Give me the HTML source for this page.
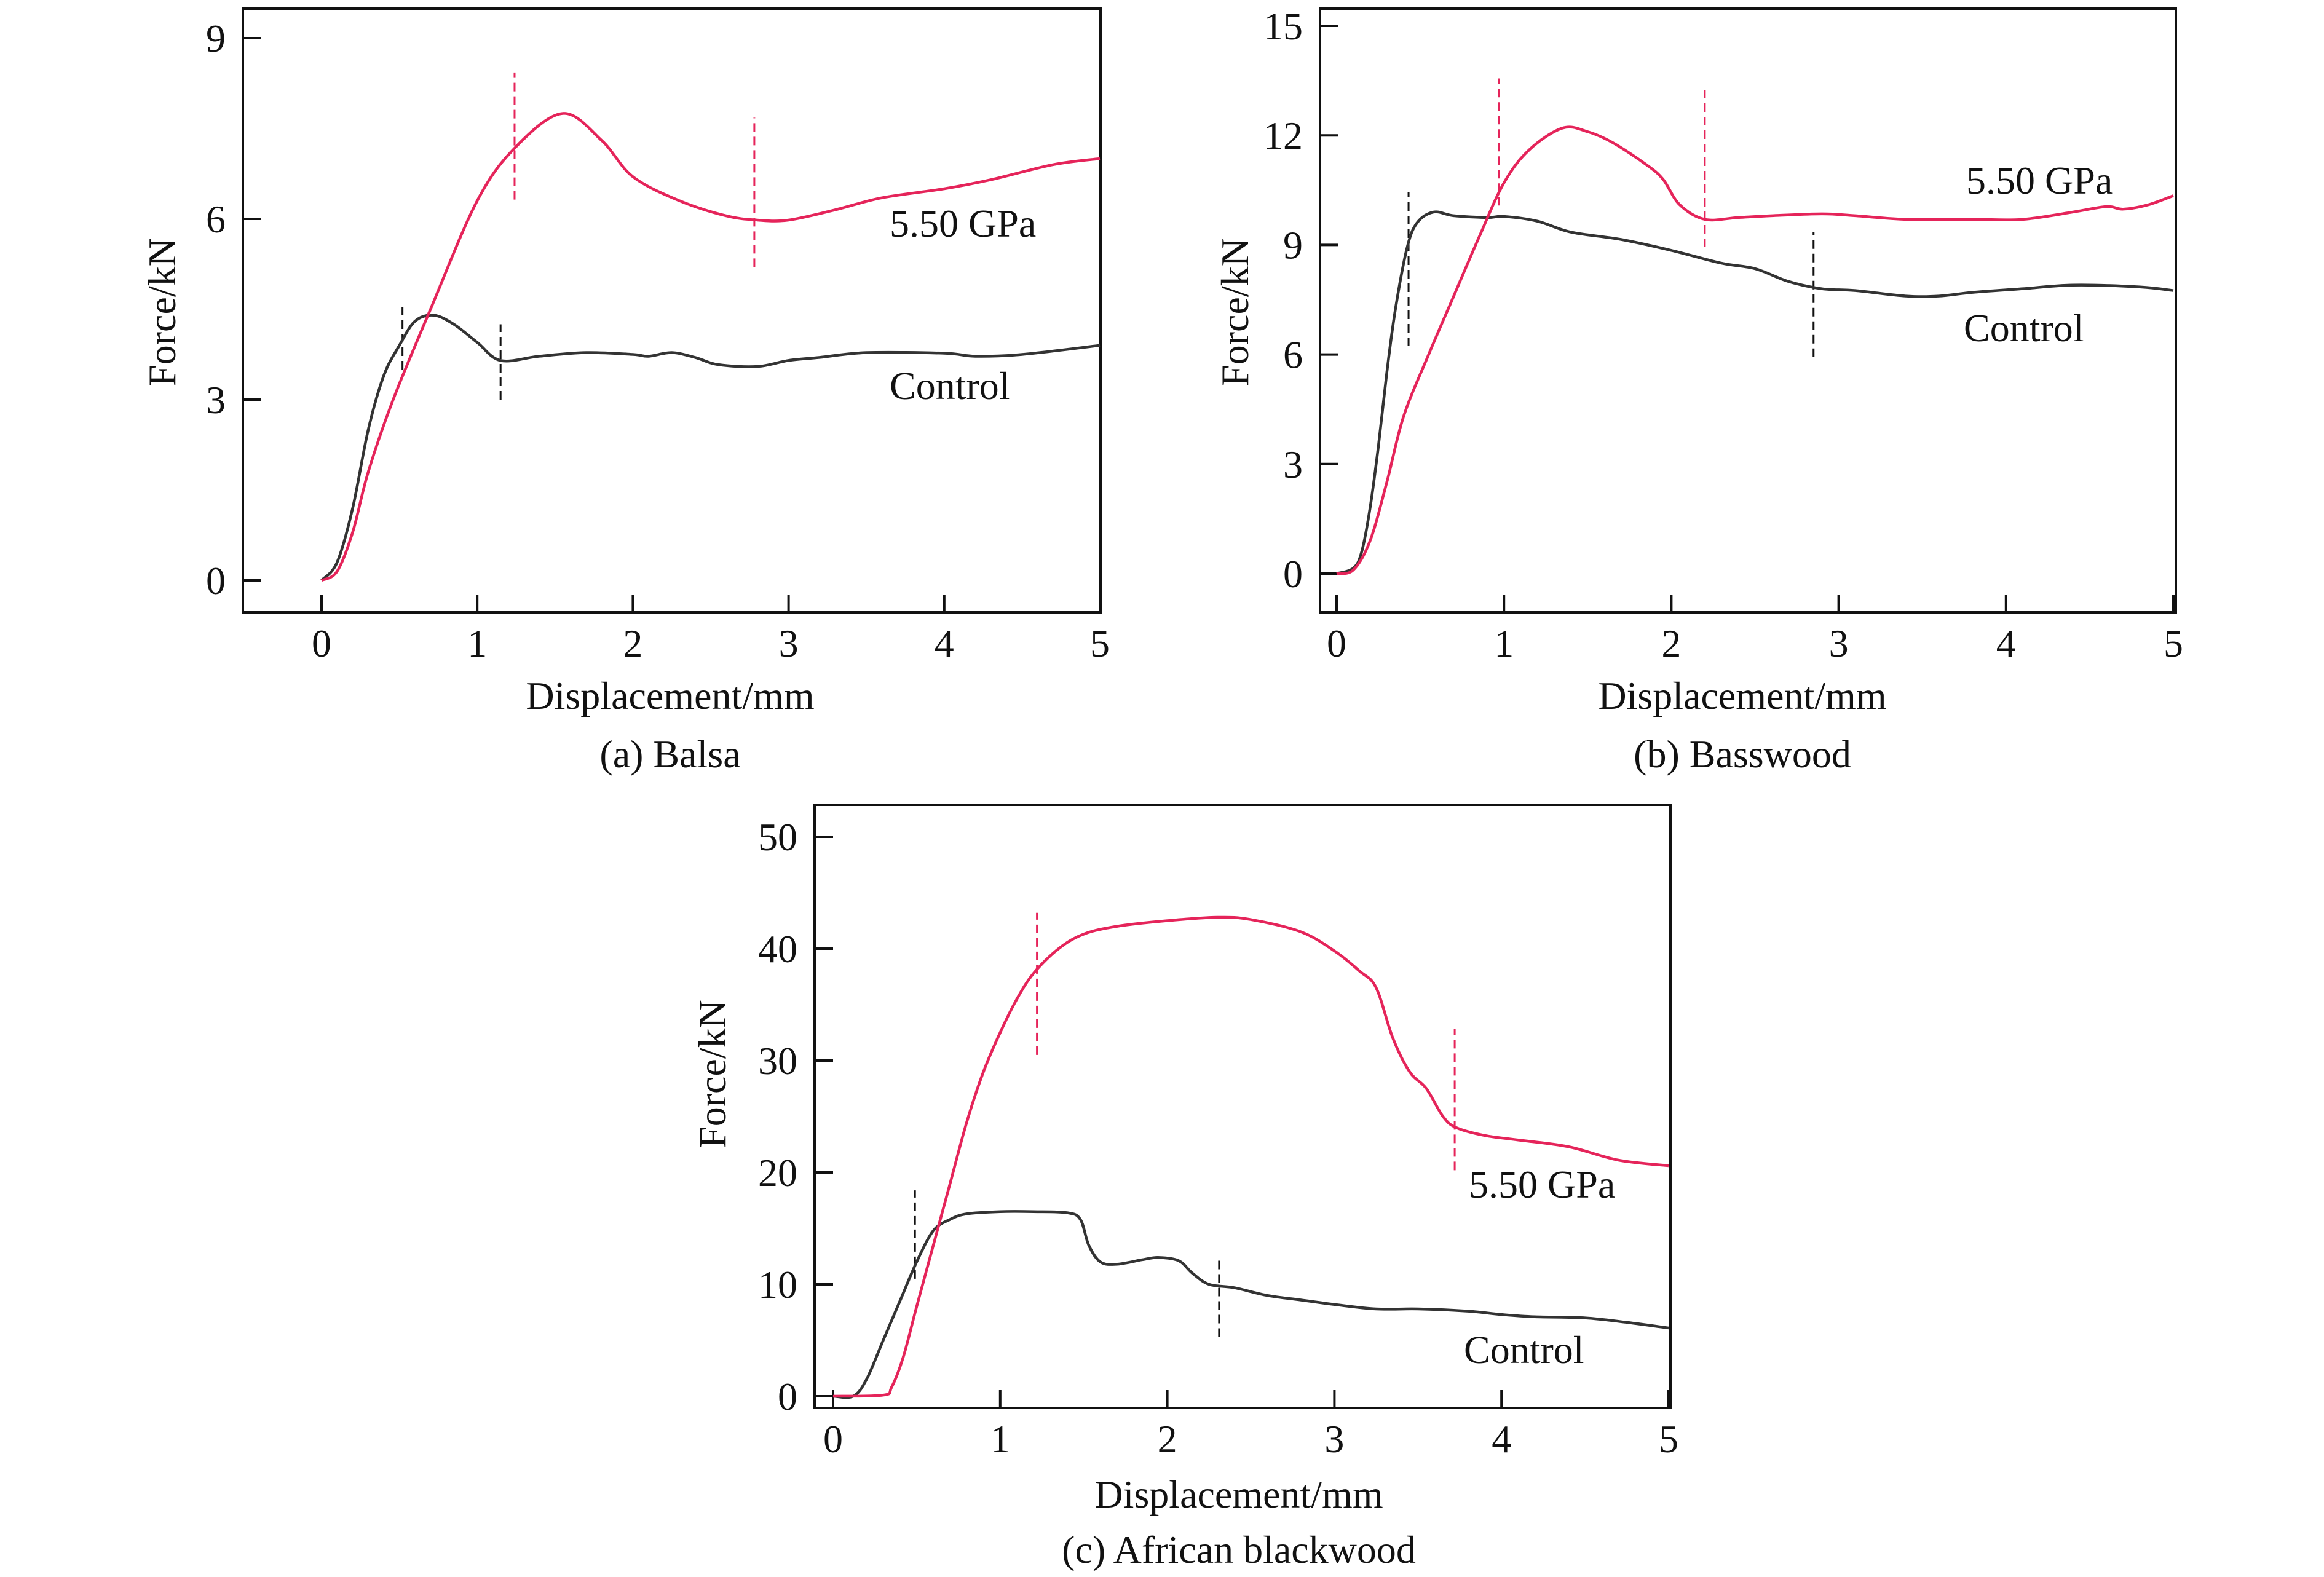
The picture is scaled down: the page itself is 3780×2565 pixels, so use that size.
<!DOCTYPE html>
<html><head><meta charset="utf-8"><style>
html,body{margin:0;padding:0;background:#fff}
svg{display:block}
text{font-family:"Liberation Serif",serif;fill:#111}
</style></head><body>
<svg id="fig" width="3780" height="2565" viewBox="0 0 3780 2565" xmlns="http://www.w3.org/2000/svg"></svg>
<script>
// ---- Panel (a) Balsa data ----
const aCtrlX=[0,0.1,0.2,0.3,0.4,0.5,0.6,0.72,0.85,1.0,1.15,1.4,1.7,2.0,2.1,2.25,2.4,2.55,2.8,3.0,3.2,3.5,4.0,4.2,4.5,5.0];
const aCtrlY=[0,0.3,1.2,2.5,3.4,3.9,4.3,4.4,4.25,3.95,3.65,3.72,3.78,3.75,3.72,3.78,3.7,3.58,3.55,3.65,3.7,3.78,3.77,3.72,3.75,3.9];
const aHpX=[0,0.1,0.2,0.3,0.46,0.7,1.0,1.25,1.55,1.8,2.0,2.3,2.6,2.8,3.0,3.3,3.6,4.0,4.3,4.7,5.0];
const aHpY=[0,0.15,0.8,1.8,3.0,4.5,6.3,7.2,7.75,7.3,6.7,6.3,6.05,5.98,5.98,6.15,6.35,6.5,6.65,6.9,7.0];
const aDashX=[0.52,1.15,1.24,2.78];
const aDashLo=[3.5,3.0,6.32,5.2];
const aDashHi=[4.6,4.25,8.43,7.68];
const aDashC=['k','k','r','r'];
const aYTicks=[0,3,6,9];
const xTicks=[0,1,2,3,4,5];
// ---- Panel (b) Basswood data ----
const bCtrlX=[0,0.1,0.15,0.2,0.25,0.3,0.35,0.42,0.48,0.58,0.7,0.9,1.0,1.2,1.4,1.7,2.0,2.3,2.5,2.7,2.9,3.1,3.4,3.6,3.8,4.1,4.4,4.8,5.0];
const bCtrlY=[0,0.15,0.6,1.8,3.5,5.5,7.2,8.9,9.6,9.9,9.8,9.75,9.78,9.65,9.35,9.15,8.85,8.5,8.35,8.0,7.8,7.75,7.6,7.6,7.7,7.8,7.9,7.85,7.75];
const bHpX=[0,0.1,0.2,0.3,0.4,0.55,0.7,0.85,1.0,1.15,1.35,1.5,1.65,1.85,1.95,2.05,2.2,2.4,2.6,2.9,3.1,3.4,3.8,4.1,4.4,4.6,4.7,4.85,5.0];
const bHpY=[0,0.1,0.9,2.5,4.3,6.0,7.6,9.2,10.7,11.6,12.2,12.1,11.8,11.2,10.8,10.1,9.7,9.75,9.8,9.85,9.8,9.7,9.7,9.7,9.9,10.05,9.98,10.1,10.35];
const bDashX=[0.43,0.97,2.2,2.85];
const bDashLo=[6.23,10.08,8.94,5.93];
const bDashHi=[10.45,13.56,13.29,9.35];
const bDashC=['k','r','r','k'];
const bYTicks=[0,3,6,9,12,15];
// ---- Panel (c) African blackwood data ----
const cCtrlX=[0,0.12,0.2,0.3,0.4,0.5,0.6,0.7,0.8,1.0,1.2,1.4,1.48,1.53,1.6,1.7,1.85,1.95,2.07,2.15,2.25,2.4,2.6,2.8,3.0,3.25,3.5,3.8,4.0,4.2,4.5,4.75,5.0];
const cCtrlY=[0,0,1.5,5,8.5,12,14.8,15.8,16.3,16.5,16.5,16.4,15.8,13.5,12,11.8,12.2,12.4,12.1,11,10,9.7,9,8.6,8.2,7.8,7.8,7.6,7.3,7.1,7.0,6.6,6.1];
const cHpX=[0,0.3,0.35,0.42,0.5,0.6,0.7,0.8,0.9,1.0,1.1,1.2,1.35,1.5,1.7,2.0,2.3,2.5,2.8,3.0,3.15,3.25,3.35,3.45,3.55,3.65,3.73,3.9,4.1,4.4,4.7,5.0];
const cHpY=[0,0.1,0.8,3.5,8,13.5,19,24.5,29,32.5,35.5,37.8,40,41.3,42,42.5,42.8,42.6,41.5,39.8,38,36.5,32,29,27.5,25,24,23.3,22.9,22.3,21.1,20.6];
const cDashX=[0.49,1.22,3.72,2.31];
const cDashLo=[10.5,30.5,20.2,5.3];
const cDashHi=[18.4,43.2,32.8,12.5];
const cDashC=['k','r','r','k'];
const cYTicks=[0,10,20,30,40,50];

const NS='http://www.w3.org/2000/svg';
const svg=document.getElementById('fig');
const RED='#e5245a', BLK='#333';
function mk(tag,attrs,parent){const e=document.createElementNS(NS,tag);for(const k in attrs)e.setAttribute(k,attrs[k]);(parent||svg).appendChild(e);return e;}
function path(xs,ys,sx,sy){
  const p=xs.map((x,i)=>[sx(x),sy(ys[i])]);
  let d='M'+p[0][0]+','+p[0][1];
  for(let i=0;i<p.length-1;i++){
    const p0=p[Math.max(0,i-1)],p1=p[i],p2=p[i+1],p3=p[Math.min(p.length-1,i+2)];
    const c1=[p1[0]+(p2[0]-p0[0])/6,p1[1]+(p2[1]-p0[1])/6];
    const c2=[p2[0]-(p3[0]-p1[0])/6,p2[1]-(p3[1]-p1[1])/6];
    d+=' C'+c1[0]+','+c1[1]+' '+c2[0]+','+c2[1]+' '+p2[0]+','+p2[1];
  }
  return d;
}
function panel(cfg){
  const g=mk('g',{});
  
  
  const sx=v=>cfg.x0+(cfg.x5-cfg.x0)*v/5;
  const sy=v=>cfg.y0+(cfg.yTop-cfg.y0)*v/cfg.yMax;
  const box=mk('rect',{x:cfg.L,y:cfg.T,width:cfg.R-cfg.L,height:cfg.B-cfg.T,fill:'none',stroke:'#111','stroke-width':4},g);
  
  
  cfg.yTicks.forEach(t=>{
    const y=sy(t);
    const tk=mk('line',{x1:cfg.L,x2:cfg.L+30,y1:y,y2:y,stroke:'#111','stroke-width':4},g);
    
    
    const lb=mk('text',{x:cfg.L-28,y:y+22,'font-size':64,'text-anchor':'end'},g);
    lb.textContent=t;
    
    
  });
  xTicks.forEach(t=>{
    const x=sx(t);
    const tk=mk('line',{x1:x,x2:x,y1:cfg.B,y2:cfg.B-29,stroke:'#111','stroke-width':4},g);
    
    
    const lb=mk('text',{x:x,y:cfg.B+72,'font-size':64,'text-anchor':'middle'},g);
    lb.textContent=t;
    
    
  });
  cfg.dx.forEach((x,i)=>{
    const dl=mk('line',{x1:sx(x),x2:sx(x),y1:sy(cfg.dlo[i]),y2:sy(cfg.dhi[i]),stroke:cfg.dc[i]==='r'?RED:'#111','stroke-width':3,'stroke-dasharray':'14 8'},g);
    
    
  });
  const c=mk('path',{d:path(cfg.cx,cfg.cy,sx,sy),fill:'none',stroke:BLK,'stroke-width':4.5,'stroke-linejoin':'round'},g);
  
  
  const h=mk('path',{d:path(cfg.hx,cfg.hy,sx,sy),fill:'none',stroke:RED,'stroke-width':4.5,'stroke-linejoin':'round'},g);
  
  
  const xl=mk('text',{x:cfg.xlc,y:cfg.xlb,'font-size':64,'text-anchor':'middle'},g);
  xl.textContent='Displacement/mm';
  
  
  const cap=mk('text',{x:cfg.xlc,y:cfg.capb,'font-size':64,'text-anchor':'middle'},g);
  cap.textContent=cfg.caption;
  
  
  const yl=mk('text',{x:0,y:0,'font-size':64,'text-anchor':'middle',transform:'translate('+cfg.ylx+','+cfg.ylc+') rotate(-90)'},g);
  yl.textContent='Force/kN';
  
  
  const l1=mk('text',{x:cfg.hpLab[0],y:cfg.hpLab[1],'font-size':64},g);
  l1.textContent='5.50 GPa';
  
  
  const l2=mk('text',{x:cfg.ctLab[0],y:cfg.ctLab[1],'font-size':64},g);
  l2.textContent='Control';
  
  
}
panel({name:'panel-a-balsa',L:395,R:1790,T:14,B:996,x0:523,x5:1789,y0:944,yTop:62,yMax:9,yTicks:aYTicks,
  cx:aCtrlX,cy:aCtrlY,hx:aHpX,hy:aHpY,dx:aDashX,dlo:aDashLo,dhi:aDashHi,dc:aDashC,
  xlc:1090,xlb:1153,capb:1248,caption:'(a) Balsa',ylx:285,ylc:508,hpLab:[1447,385],ctLab:[1447,649]});
panel({name:'panel-b-basswood',L:2147,R:3539,T:14,B:996,x0:2174,x5:3535,y0:933,yTop:42,yMax:15,yTicks:bYTicks,
  cx:bCtrlX,cy:bCtrlY,hx:bHpX,hy:bHpY,dx:bDashX,dlo:bDashLo,dhi:bDashHi,dc:bDashC,
  xlc:2834,xlb:1153,capb:1248,caption:'(b) Basswood',ylx:2030,ylc:508,hpLab:[3198,315],ctLab:[3194,555]});
panel({name:'panel-c-african-blackwood',L:1325,R:2717,T:1309,B:2290,x0:1355,x5:2714,y0:2271,yTop:1361,yMax:50,yTicks:cYTicks,
  cx:cCtrlX,cy:cCtrlY,hx:cHpX,hy:cHpY,dx:cDashX,dlo:cDashLo,dhi:cDashHi,dc:cDashC,
  xlc:2015,xlb:2452,capb:2542,caption:'(c) African blackwood',ylx:1180,ylc:1747,hpLab:[2389,1948],ctLab:[2381,2217]});
</script>
</body></html>
